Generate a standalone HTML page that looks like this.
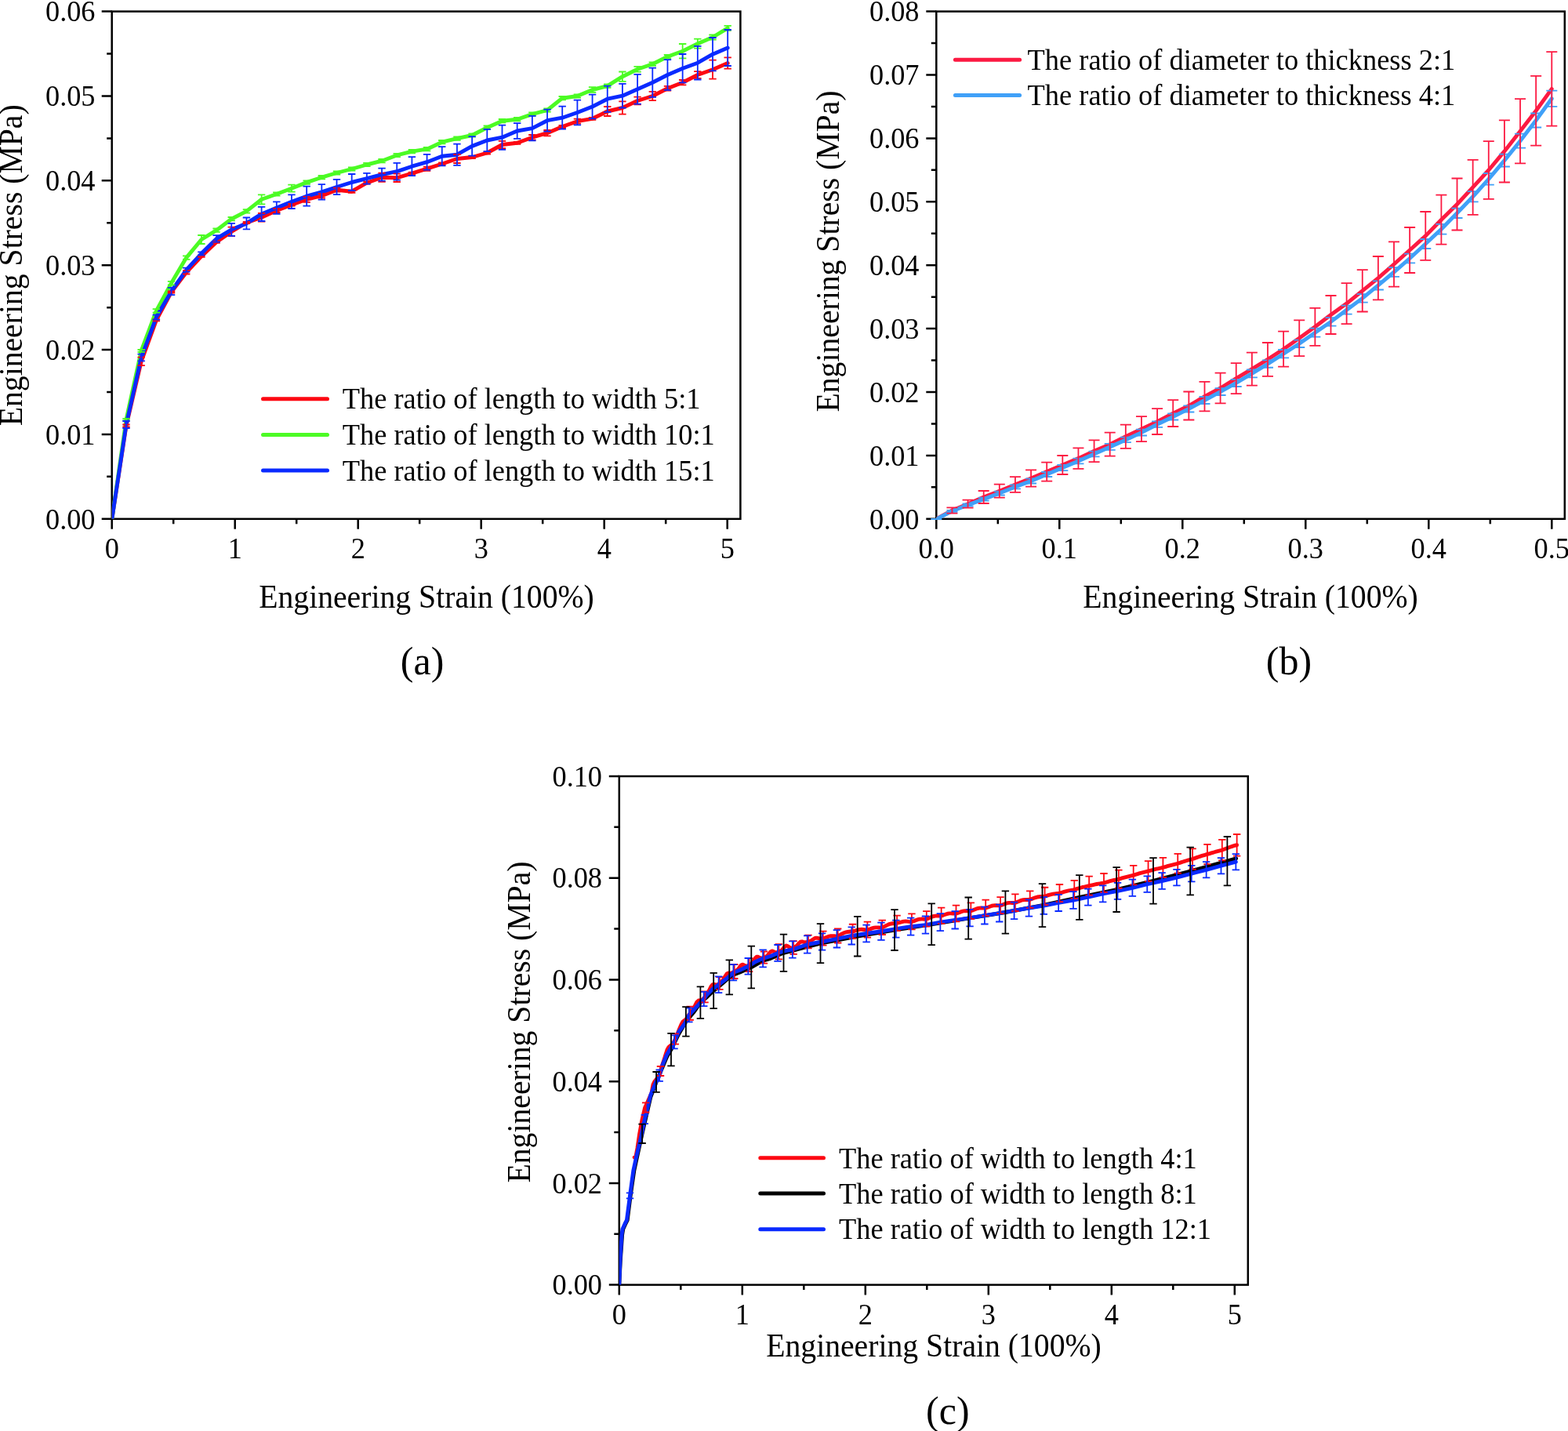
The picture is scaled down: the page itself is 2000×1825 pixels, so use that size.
<!DOCTYPE html>
<html lang="en">
<head>
<meta charset="utf-8">
<title>Engineering stress-strain curves</title>
<style>
html,body{margin:0;padding:0;background:#fff;}
body{width:2000px;height:1825px;overflow:hidden;}
svg{display:block;}
text{white-space:pre;}
</style>
</head>
<body>
<svg width="2000" height="1825" viewBox="0 0 2000 1825" font-family='"Liberation Serif", serif' fill="#000">
<rect width="2000" height="1825" fill="#fff"/>
<g>
<rect x="142.7" y="14.6" width="801.7" height="647.2" fill="none" stroke="#000" stroke-width="2.5"/>
<path d="M142.7 661.8v13M299.7 661.8v13M456.7 661.8v13M613.7 661.8v13M770.7 661.8v13M927.7 661.8v13M221.2 661.8v6.5M378.2 661.8v6.5M535.2 661.8v6.5M692.2 661.8v6.5M849.2 661.8v6.5M142.7 661.8h-13M142.7 553.93h-13M142.7 446.07h-13M142.7 338.2h-13M142.7 230.33h-13M142.7 122.47h-13M142.7 14.6h-13M142.7 607.87h-6.5M142.7 500h-6.5M142.7 392.13h-6.5M142.7 284.27h-6.5M142.7 176.4h-6.5M142.7 68.53h-6.5" fill="none" stroke="#000" stroke-width="2.5"/>
<text transform="translate(142.7 712.2) scale(0.9551 1)" font-size="38.01" text-anchor="middle">0</text>
<text transform="translate(299.7 712.2) scale(0.9551 1)" font-size="38.01" text-anchor="middle">1</text>
<text transform="translate(456.7 712.2) scale(0.9551 1)" font-size="38.01" text-anchor="middle">2</text>
<text transform="translate(613.7 712.2) scale(0.9551 1)" font-size="38.01" text-anchor="middle">3</text>
<text transform="translate(770.7 712.2) scale(0.9551 1)" font-size="38.01" text-anchor="middle">4</text>
<text transform="translate(927.7 712.2) scale(0.9551 1)" font-size="38.01" text-anchor="middle">5</text>
<text transform="translate(121.5 674.5) scale(0.9551 1)" font-size="38.01" text-anchor="end">0.00</text>
<text transform="translate(121.5 566.63) scale(0.9551 1)" font-size="38.01" text-anchor="end">0.01</text>
<text transform="translate(121.5 458.77) scale(0.9551 1)" font-size="38.01" text-anchor="end">0.02</text>
<text transform="translate(121.5 350.9) scale(0.9551 1)" font-size="38.01" text-anchor="end">0.03</text>
<text transform="translate(121.5 243.03) scale(0.9551 1)" font-size="38.01" text-anchor="end">0.04</text>
<text transform="translate(121.5 135.17) scale(0.9551 1)" font-size="38.01" text-anchor="end">0.05</text>
<text transform="translate(121.5 27.3) scale(0.9551 1)" font-size="38.01" text-anchor="end">0.06</text>
<clipPath id="ca"><rect x="142.7" y="14.6" width="801.7" height="647.2"/></clipPath>
<polyline clip-path="url(#ca)" points="142.8,662 161,543 180.18,460.9 199.36,408.4 218.54,372.5 237.72,347.3 256.9,326.9 276.08,308.8 295.26,295.4 314.44,284 333.62,277.3 352.8,268.5 371.98,261.3 391.16,254.3 410.34,249.7 429.52,242.2 448.7,244.2 467.88,233.2 487.06,226.2 506.24,226.8 525.42,221.2 544.6,215.2 563.78,209 582.96,202.5 602.14,200.5 621.32,195 640.5,184.5 659.68,182.3 678.86,175.2 698.04,169.7 717.22,161.5 736.4,154.7 755.58,151.3 774.76,142 793.94,137.5 813.12,128.5 832.3,122.5 851.48,112.7 870.66,105.2 889.84,95.5 909.02,88.7 928.2,80.5" fill="none" stroke="#fd0812" stroke-width="4.9" stroke-linejoin="round" stroke-linecap="round"/>
<polyline clip-path="url(#ca)" points="142.8,662 161,535.1 180.18,447.4 199.36,396.4 218.54,361.1 237.72,328.6 256.9,305.5 276.08,293.7 295.26,279.2 314.44,269.4 333.62,254.3 352.8,247.5 371.98,240.2 391.16,232.6 410.34,226.2 429.52,220.5 448.7,215.5 467.88,210 487.06,205.2 506.24,198 525.42,193.2 544.6,190.2 563.78,181.2 582.96,176.7 602.14,172.5 621.32,162.7 640.5,154.2 659.68,152.2 678.86,145.6 698.04,140.5 717.22,125.2 736.4,122.5 755.58,114.5 774.76,109.7 793.94,97.7 813.12,88.3 832.3,81.7 851.48,72.2 870.66,65.2 889.84,55.7 909.02,47.5 928.2,35.8" fill="none" stroke="#4cfb24" stroke-width="4.9" stroke-linejoin="round" stroke-linecap="round"/>
<polyline clip-path="url(#ca)" points="142.8,662 161,541.5 180.18,456 199.36,404.6 218.54,371.5 237.72,344.1 256.9,323.3 276.08,304.4 295.26,292.8 314.44,284.9 333.62,272.9 352.8,265.1 371.98,257.2 391.16,250.2 410.34,244.8 429.52,238.5 448.7,232.5 467.88,227.7 487.06,222.7 506.24,218.7 525.42,212.2 544.6,206.7 563.78,199.2 582.96,197.2 602.14,186.4 621.32,179 640.5,175.2 659.68,167 678.86,163.6 698.04,153.7 717.22,150.2 736.4,143.5 755.58,136 774.76,126.2 793.94,122.2 813.12,113.8 832.3,105.2 851.48,95.5 870.66,87.2 889.84,80.2 909.02,69.2 928.2,61" fill="none" stroke="#0a2aff" stroke-width="4.9" stroke-linejoin="round" stroke-linecap="round"/>
<path d="M161 541.5V544.5M156.3 541.5h9.4M156.3 544.5h9.4M180.18 455.7V466.1M175.48 455.7h9.4M175.48 466.1h9.4M199.36 407.4V409.4M194.66 407.4h9.4M194.66 409.4h9.4M218.54 371.5V373.5M213.84 371.5h9.4M213.84 373.5h9.4M237.72 345.1V349.5M233.02 345.1h9.4M233.02 349.5h9.4M256.9 325.9V327.9M252.2 325.9h9.4M252.2 327.9h9.4M276.08 307.8V309.8M271.38 307.8h9.4M271.38 309.8h9.4M295.26 289.6V301.2M290.56 289.6h9.4M290.56 301.2h9.4M314.44 283V285M309.74 283h9.4M309.74 285h9.4M333.62 271.9V282.7M328.92 271.9h9.4M328.92 282.7h9.4M352.8 266V271M348.1 266h9.4M348.1 271h9.4M371.98 260V262.6M367.28 260h9.4M367.28 262.6h9.4M391.16 250.8V257.8M386.46 250.8h9.4M386.46 257.8h9.4M410.34 246.9V252.5M405.64 246.9h9.4M405.64 252.5h9.4M429.52 239.7V244.7M424.82 239.7h9.4M424.82 244.7h9.4M448.7 242.6V245.8M444 242.6h9.4M444 245.8h9.4M467.88 231.7V234.7M463.18 231.7h9.4M463.18 234.7h9.4M487.06 220.6V231.8M482.36 220.6h9.4M482.36 231.8h9.4M506.24 221.6V232M501.54 221.6h9.4M501.54 232h9.4M525.42 219.7V222.7M520.72 219.7h9.4M520.72 222.7h9.4M544.6 212.6V217.8M539.9 212.6h9.4M539.9 217.8h9.4M563.78 207.5V210.5M559.08 207.5h9.4M559.08 210.5h9.4M582.96 197V208M578.26 197h9.4M578.26 208h9.4M602.14 199V202M597.44 199h9.4M597.44 202h9.4M621.32 193.3V196.7M616.62 193.3h9.4M616.62 196.7h9.4M640.5 179.9V189.1M635.8 179.9h9.4M635.8 189.1h9.4M659.68 180.8V183.8M654.98 180.8h9.4M654.98 183.8h9.4M678.86 172V178.4M674.16 172h9.4M674.16 178.4h9.4M698.04 166V173.4M693.34 166h9.4M693.34 173.4h9.4M717.22 160V163M712.52 160h9.4M712.52 163h9.4M736.4 151.7V157.7M731.7 151.7h9.4M731.7 157.7h9.4M755.58 149.8V152.8M750.88 149.8h9.4M750.88 152.8h9.4M774.76 136V148M770.06 136h9.4M770.06 148h9.4M793.94 129.4V145.6M789.24 129.4h9.4M789.24 145.6h9.4M813.12 123.6V133.4M808.42 123.6h9.4M808.42 133.4h9.4M832.3 116.8V128.2M827.6 116.8h9.4M827.6 128.2h9.4M851.48 109.9V115.5M846.78 109.9h9.4M846.78 115.5h9.4M870.66 102V108.4M865.96 102h9.4M865.96 108.4h9.4M889.84 91.2V99.8M885.14 91.2h9.4M885.14 99.8h9.4M909.02 76.7V100.7M904.32 76.7h9.4M904.32 100.7h9.4M928.2 73.3V87.7M923.5 73.3h9.4M923.5 87.7h9.4" fill="none" stroke="#fd0812" stroke-width="1.8"/>
<path d="M161 533.8V536.4M156.3 533.8h9.4M156.3 536.4h9.4M180.18 446V448.8M175.48 446h9.4M175.48 448.8h9.4M199.36 394.2V398.6M194.66 394.2h9.4M194.66 398.6h9.4M218.54 358.9V363.3M213.84 358.9h9.4M213.84 363.3h9.4M237.72 326.4V330.8M233.02 326.4h9.4M233.02 330.8h9.4M256.9 300V311M252.2 300h9.4M252.2 311h9.4M276.08 291.5V295.9M271.38 291.5h9.4M271.38 295.9h9.4M295.26 277V281.4M290.56 277h9.4M290.56 281.4h9.4M314.44 267.2V271.6M309.74 267.2h9.4M309.74 271.6h9.4M333.62 248.3V260.3M328.92 248.3h9.4M328.92 260.3h9.4M352.8 245.3V249.7M348.1 245.3h9.4M348.1 249.7h9.4M371.98 235.7V244.7M367.28 235.7h9.4M367.28 244.7h9.4M391.16 230.4V234.8M386.46 230.4h9.4M386.46 234.8h9.4M410.34 224V228.4M405.64 224h9.4M405.64 228.4h9.4M429.52 218.3V222.7M424.82 218.3h9.4M424.82 222.7h9.4M448.7 213.3V217.7M444 213.3h9.4M444 217.7h9.4M467.88 207.8V212.2M463.18 207.8h9.4M463.18 212.2h9.4M487.06 203V207.4M482.36 203h9.4M482.36 207.4h9.4M506.24 195.8V200.2M501.54 195.8h9.4M501.54 200.2h9.4M525.42 191V195.4M520.72 191h9.4M520.72 195.4h9.4M544.6 188V192.4M539.9 188h9.4M539.9 192.4h9.4M563.78 179V183.4M559.08 179h9.4M559.08 183.4h9.4M582.96 174.5V178.9M578.26 174.5h9.4M578.26 178.9h9.4M602.14 170.3V174.7M597.44 170.3h9.4M597.44 174.7h9.4M621.32 160.5V164.9M616.62 160.5h9.4M616.62 164.9h9.4M640.5 152V156.4M635.8 152h9.4M635.8 156.4h9.4M659.68 150V154.4M654.98 150h9.4M654.98 154.4h9.4M678.86 143.4V147.8M674.16 143.4h9.4M674.16 147.8h9.4M698.04 138.3V142.7M693.34 138.3h9.4M693.34 142.7h9.4M717.22 123V127.4M712.52 123h9.4M712.52 127.4h9.4M736.4 120.3V124.7M731.7 120.3h9.4M731.7 124.7h9.4M755.58 111.1V117.9M750.88 111.1h9.4M750.88 117.9h9.4M774.76 107.5V111.9M770.06 107.5h9.4M770.06 111.9h9.4M793.94 91.5V103.9M789.24 91.5h9.4M789.24 103.9h9.4M813.12 84.9V91.7M808.42 84.9h9.4M808.42 91.7h9.4M832.3 79.5V83.9M827.6 79.5h9.4M827.6 83.9h9.4M851.48 70V74.4M846.78 70h9.4M846.78 74.4h9.4M870.66 56V74.4M865.96 56h9.4M865.96 74.4h9.4M889.84 49.7V61.7M885.14 49.7h9.4M885.14 61.7h9.4M909.02 44.5V50.5M904.32 44.5h9.4M904.32 50.5h9.4M928.2 32.8V38.8M923.5 32.8h9.4M923.5 38.8h9.4" fill="none" stroke="#4cfb24" stroke-width="1.8"/>
<path d="M161 537V546M156.3 537h9.4M156.3 546h9.4M180.18 451.7V460.3M175.48 451.7h9.4M175.48 460.3h9.4M199.36 401.6V407.6M194.66 401.6h9.4M194.66 407.6h9.4M218.54 366.8V376.2M213.84 366.8h9.4M213.84 376.2h9.4M237.72 341.6V346.6M233.02 341.6h9.4M233.02 346.6h9.4M256.9 321.3V325.3M252.2 321.3h9.4M252.2 325.3h9.4M276.08 300.2V308.6M271.38 300.2h9.4M271.38 308.6h9.4M295.26 284.8V300.8M290.56 284.8h9.4M290.56 300.8h9.4M314.44 277.5V292.3M309.74 277.5h9.4M309.74 292.3h9.4M333.62 263.8V282M328.92 263.8h9.4M328.92 282h9.4M352.8 257.4V272.8M348.1 257.4h9.4M348.1 272.8h9.4M371.98 248.4V266M367.28 248.4h9.4M367.28 266h9.4M391.16 237.7V262.7M386.46 237.7h9.4M386.46 262.7h9.4M410.34 235.05V254.55M405.64 235.05h9.4M405.64 254.55h9.4M429.52 228.8V248.2M424.82 228.8h9.4M424.82 248.2h9.4M448.7 222V243M444 222h9.4M444 243h9.4M467.88 220.8V234.6M463.18 220.8h9.4M463.18 234.6h9.4M487.06 214.7V230.7M482.36 214.7h9.4M482.36 230.7h9.4M506.24 207.8V229.6M501.54 207.8h9.4M501.54 229.6h9.4M525.42 200.2V224.2M520.72 200.2h9.4M520.72 224.2h9.4M544.6 196.8V216.6M539.9 196.8h9.4M539.9 216.6h9.4M563.78 187.1V211.3M559.08 187.1h9.4M559.08 211.3h9.4M582.96 183.6V210.8M578.26 183.6h9.4M578.26 210.8h9.4M602.14 174.2V198.6M597.44 174.2h9.4M597.44 198.6h9.4M621.32 164.9V193.1M616.62 164.9h9.4M616.62 193.1h9.4M640.5 159.6V190.8M635.8 159.6h9.4M635.8 190.8h9.4M659.68 157.1V176.9M654.98 157.1h9.4M654.98 176.9h9.4M678.86 147.9V179.3M674.16 147.9h9.4M674.16 179.3h9.4M698.04 139.7V167.7M693.34 139.7h9.4M693.34 167.7h9.4M717.22 135.7V164.7M712.52 135.7h9.4M712.52 164.7h9.4M736.4 127.7V159.3M731.7 127.7h9.4M731.7 159.3h9.4M755.58 120.6V151.4M750.88 120.6h9.4M750.88 151.4h9.4M774.76 109.6V142.8M770.06 109.6h9.4M770.06 142.8h9.4M793.94 106.9V137.5M789.24 106.9h9.4M789.24 137.5h9.4M813.12 94.9V132.7M808.42 94.9h9.4M808.42 132.7h9.4M832.3 86.6V123.8M827.6 86.6h9.4M827.6 123.8h9.4M851.48 76.2V114.8M846.78 76.2h9.4M846.78 114.8h9.4M870.66 69V105.4M865.96 69h9.4M865.96 105.4h9.4M889.84 58.9V101.5M885.14 58.9h9.4M885.14 101.5h9.4M909.02 48V90.4M904.32 48h9.4M904.32 90.4h9.4M928.2 38V84M923.5 38h9.4M923.5 84h9.4" fill="none" stroke="#0a2aff" stroke-width="1.8"/>
<text transform="translate(544 775) scale(0.9551 1)" font-size="41.57" text-anchor="middle">Engineering Strain (100%)</text>
<text transform="translate(28 338.3) rotate(-90) scale(0.9551 1)" font-size="41.57" text-anchor="middle">Engineering Stress (MPa)</text>
<text transform="translate(538.6 860.4) scale(0.9901 1)" font-size="50.5" text-anchor="middle">(a)</text>
<line x1="335.5" y1="508.8" x2="417.5" y2="508.8" stroke="#fd0812" stroke-width="5" stroke-linecap="round"/>
<text transform="translate(436.8 520.9) scale(0.9551 1)" font-size="38.11">The ratio of length to width 5:1</text>
<line x1="335.5" y1="554.4" x2="417.5" y2="554.4" stroke="#4cfb24" stroke-width="5" stroke-linecap="round"/>
<text transform="translate(436.8 566.9) scale(0.9551 1)" font-size="38.11">The ratio of length to width 10:1</text>
<line x1="335.5" y1="599.9" x2="417.5" y2="599.9" stroke="#0a2aff" stroke-width="5" stroke-linecap="round"/>
<text transform="translate(436.8 612.9) scale(0.9551 1)" font-size="38.11">The ratio of length to width 15:1</text>
</g>
<g>
<rect x="1194.3" y="14.6" width="801.5" height="647.2" fill="none" stroke="#000" stroke-width="2.5"/>
<path d="M1194.3 661.8v13M1351.3 661.8v13M1508.3 661.8v13M1665.3 661.8v13M1822.3 661.8v13M1979.3 661.8v13M1272.8 661.8v6.5M1429.8 661.8v6.5M1586.8 661.8v6.5M1743.8 661.8v6.5M1900.8 661.8v6.5M1194.3 661.8h-13M1194.3 580.9h-13M1194.3 500h-13M1194.3 419.1h-13M1194.3 338.2h-13M1194.3 257.3h-13M1194.3 176.4h-13M1194.3 95.5h-13M1194.3 14.6h-13M1194.3 621.35h-6.5M1194.3 540.45h-6.5M1194.3 459.55h-6.5M1194.3 378.65h-6.5M1194.3 297.75h-6.5M1194.3 216.85h-6.5M1194.3 135.95h-6.5M1194.3 55.05h-6.5" fill="none" stroke="#000" stroke-width="2.5"/>
<text transform="translate(1194.3 712.2) scale(0.9551 1)" font-size="38.01" text-anchor="middle">0.0</text>
<text transform="translate(1351.3 712.2) scale(0.9551 1)" font-size="38.01" text-anchor="middle">0.1</text>
<text transform="translate(1508.3 712.2) scale(0.9551 1)" font-size="38.01" text-anchor="middle">0.2</text>
<text transform="translate(1665.3 712.2) scale(0.9551 1)" font-size="38.01" text-anchor="middle">0.3</text>
<text transform="translate(1822.3 712.2) scale(0.9551 1)" font-size="38.01" text-anchor="middle">0.4</text>
<text transform="translate(1979.3 712.2) scale(0.9551 1)" font-size="38.01" text-anchor="middle">0.5</text>
<text transform="translate(1172.5 674.5) scale(0.9551 1)" font-size="38.01" text-anchor="end">0.00</text>
<text transform="translate(1172.5 593.6) scale(0.9551 1)" font-size="38.01" text-anchor="end">0.01</text>
<text transform="translate(1172.5 512.7) scale(0.9551 1)" font-size="38.01" text-anchor="end">0.02</text>
<text transform="translate(1172.5 431.8) scale(0.9551 1)" font-size="38.01" text-anchor="end">0.03</text>
<text transform="translate(1172.5 350.9) scale(0.9551 1)" font-size="38.01" text-anchor="end">0.04</text>
<text transform="translate(1172.5 270) scale(0.9551 1)" font-size="38.01" text-anchor="end">0.05</text>
<text transform="translate(1172.5 189.1) scale(0.9551 1)" font-size="38.01" text-anchor="end">0.06</text>
<text transform="translate(1172.5 108.2) scale(0.9551 1)" font-size="38.01" text-anchor="end">0.07</text>
<text transform="translate(1172.5 27.3) scale(0.9551 1)" font-size="38.01" text-anchor="end">0.08</text>
<clipPath id="cb"><rect x="1194.3" y="14.6" width="801.5" height="647.2"/></clipPath>
<polyline clip-path="url(#cb)" points="1194.3,662 1214.43,651 1234.56,642.7 1254.68,634 1274.81,626.2 1294.94,618 1315.07,610 1335.2,601.6 1355.32,593 1375.45,584.6 1395.58,575.3 1415.71,566.7 1435.84,556.8 1455.96,547.2 1476.09,537.6 1496.22,527.1 1516.35,517.5 1536.48,505.6 1556.6,495 1576.73,482.7 1596.86,470.7 1616.99,458.4 1637.12,445.2 1657.24,431.3 1677.37,416.8 1697.5,401.5 1717.63,387.1 1737.76,370.8 1757.88,354.7 1778.01,337 1798.14,319 1818.27,300.9 1838.4,280.2 1858.52,260.5 1878.65,238.8 1898.78,217 1918.91,192.9 1939.04,167.3 1959.16,141.2 1979.29,113.4" fill="none" stroke="#fc1a42" stroke-width="4.9" stroke-linejoin="round" stroke-linecap="round"/>
<polyline clip-path="url(#cb)" points="1194.3,662 1214.43,651.8 1234.56,644 1254.68,636.6 1274.81,629.1 1294.94,620.9 1315.07,613.4 1335.2,605 1355.32,596.6 1375.45,588 1395.58,579 1415.71,569.9 1435.84,560.9 1455.96,551.6 1476.09,541.2 1496.22,531.5 1516.35,521.4 1536.48,510.5 1556.6,499.6 1576.73,488.4 1596.86,476.4 1616.99,464.1 1637.12,451.2 1657.24,438.3 1677.37,424.2 1697.5,410.4 1717.63,395.2 1737.76,380.4 1757.88,363.9 1778.01,347 1798.14,329.5 1818.27,311 1838.4,292.2 1858.52,271.8 1878.65,250.8 1898.78,228.3 1918.91,204.6 1939.04,179.7 1959.16,153.5 1979.29,125.8" fill="none" stroke="#40a0f8" stroke-width="4.9" stroke-linejoin="round" stroke-linecap="round"/>
<path d="M1194.3 661.99V662.01M1187.3 661.99h14M1187.3 662.01h14M1214.43 650.8V652.8M1207.43 650.8h14M1207.43 652.8h14M1234.56 642.5V645.5M1227.56 642.5h14M1227.56 645.5h14M1254.68 634.6V638.6M1247.68 634.6h14M1247.68 638.6h14M1274.81 626.7V631.5M1267.81 626.7h14M1267.81 631.5h14M1294.94 618.4V623.4M1287.94 618.4h14M1287.94 623.4h14M1315.07 610.3V616.5M1308.07 610.3h14M1308.07 616.5h14M1335.2 602V608M1328.2 602h14M1328.2 608h14M1355.32 593V600.2M1348.32 593h14M1348.32 600.2h14M1375.45 584.6V591.4M1368.45 584.6h14M1368.45 591.4h14M1395.58 575.6V582.4M1388.58 575.6h14M1388.58 582.4h14M1415.71 565.9V573.9M1408.71 565.9h14M1408.71 573.9h14M1435.84 557.7V564.1M1428.84 557.7h14M1428.84 564.1h14M1455.96 547.7V555.5M1448.96 547.7h14M1448.96 555.5h14M1476.09 537.45V544.95M1469.09 537.45h14M1469.09 544.95h14M1496.22 527.5V535.5M1489.22 527.5h14M1489.22 535.5h14M1516.35 517.3V525.5M1509.35 517.3h14M1509.35 525.5h14M1536.48 506V515M1529.48 506h14M1529.48 515h14M1556.6 495.2V504M1549.6 495.2h14M1549.6 504h14M1576.73 483.8V493M1569.73 483.8h14M1569.73 493h14M1596.86 471.5V481.3M1589.86 471.5h14M1589.86 481.3h14M1616.99 459.45V468.75M1609.99 459.45h14M1609.99 468.75h14M1637.12 446V456.4M1630.12 446h14M1630.12 456.4h14M1657.24 433.6V443M1650.24 433.6h14M1650.24 443h14M1677.37 418.7V429.7M1670.37 418.7h14M1670.37 429.7h14M1697.5 405.1V415.7M1690.5 405.1h14M1690.5 415.7h14M1717.63 389.7V400.7M1710.63 389.7h14M1710.63 400.7h14M1737.76 375.2V385.6M1730.76 375.2h14M1730.76 385.6h14M1757.88 358.3V369.5M1750.88 358.3h14M1750.88 369.5h14M1778.01 341.2V352.8M1771.01 341.2h14M1771.01 352.8h14M1798.14 323.6V335.4M1791.14 323.6h14M1791.14 335.4h14M1818.27 305V317M1811.27 305h14M1811.27 317h14M1838.4 285.8V298.6M1831.4 285.8h14M1831.4 298.6h14M1858.52 265.6V278M1851.52 265.6h14M1851.52 278h14M1878.65 244.2V257.4M1871.65 244.2h14M1871.65 257.4h14M1898.78 221V235.6M1891.78 221h14M1891.78 235.6h14M1918.91 196.7V212.5M1911.91 196.7h14M1911.91 212.5h14M1939.04 170.7V188.7M1932.04 170.7h14M1932.04 188.7h14M1959.16 144.5V162.5M1952.16 144.5h14M1952.16 162.5h14M1979.29 115.7V135.9M1972.29 115.7h14M1972.29 135.9h14" fill="none" stroke="#40a0f8" stroke-width="1.8"/>
<path d="M1214.43 647.3V654.7M1207.43 647.3h14M1207.43 654.7h14M1234.56 637.7V647.7M1227.56 637.7h14M1227.56 647.7h14M1254.68 626V642M1247.68 626h14M1247.68 642h14M1274.81 617.7V634.7M1267.81 617.7h14M1267.81 634.7h14M1294.94 608.2V627.8M1287.94 608.2h14M1287.94 627.8h14M1315.07 599.3V620.7M1308.07 599.3h14M1308.07 620.7h14M1335.2 589.6V613.6M1328.2 589.6h14M1328.2 613.6h14M1355.32 581V605M1348.32 581h14M1348.32 605h14M1375.45 571.3V597.9M1368.45 571.3h14M1368.45 597.9h14M1395.58 561.4V589.2M1388.58 561.4h14M1388.58 589.2h14M1415.71 551.7V581.7M1408.71 551.7h14M1408.71 581.7h14M1435.84 541.7V571.9M1428.84 541.7h14M1428.84 571.9h14M1455.96 531.2V563.2M1448.96 531.2h14M1448.96 563.2h14M1476.09 521.2V554M1469.09 521.2h14M1469.09 554h14M1496.22 510.2V544M1489.22 510.2h14M1489.22 544h14M1516.35 499.5V535.5M1509.35 499.5h14M1509.35 535.5h14M1536.48 486.8V524.4M1529.48 486.8h14M1529.48 524.4h14M1556.6 475.7V514.3M1549.6 475.7h14M1549.6 514.3h14M1576.73 463.2V502.2M1569.73 463.2h14M1569.73 502.2h14M1596.86 449.7V491.7M1589.86 449.7h14M1589.86 491.7h14M1616.99 437V479.8M1609.99 437h14M1609.99 479.8h14M1637.12 422.7V467.7M1630.12 422.7h14M1630.12 467.7h14M1657.24 408.4V454.2M1650.24 408.4h14M1650.24 454.2h14M1677.37 392.8V440.8M1670.37 392.8h14M1670.37 440.8h14M1697.5 377V426M1690.5 377h14M1690.5 426h14M1717.63 361.1V413.1M1710.63 361.1h14M1710.63 413.1h14M1737.76 344.1V397.5M1730.76 344.1h14M1730.76 397.5h14M1757.88 327V382.4M1750.88 327h14M1750.88 382.4h14M1778.01 308.3V365.7M1771.01 308.3h14M1771.01 365.7h14M1798.14 290V348M1791.14 290h14M1791.14 348h14M1818.27 270V331.8M1811.27 270h14M1811.27 331.8h14M1838.4 248.7V311.7M1831.4 248.7h14M1831.4 311.7h14M1858.52 227.5V293.5M1851.52 227.5h14M1851.52 293.5h14M1878.65 203.8V273.8M1871.65 203.8h14M1871.65 273.8h14M1898.78 180.2V253.8M1891.78 180.2h14M1891.78 253.8h14M1918.91 153.3V232.5M1911.91 153.3h14M1911.91 232.5h14M1939.04 126.2V208.4M1932.04 126.2h14M1932.04 208.4h14M1959.16 96.8V185.6M1952.16 96.8h14M1952.16 185.6h14M1979.29 66.1V160.7M1972.29 66.1h14M1972.29 160.7h14" fill="none" stroke="#fc1a42" stroke-width="1.8"/>
<text transform="translate(1595 775) scale(0.9551 1)" font-size="41.57" text-anchor="middle">Engineering Strain (100%)</text>
<text transform="translate(1069.6 320.5) rotate(-90) scale(0.9551 1)" font-size="41.57" text-anchor="middle">Engineering Stress (MPa)</text>
<text transform="translate(1644 860.4) scale(0.9901 1)" font-size="50.5" text-anchor="middle">(b)</text>
<line x1="1218.4" y1="76.2" x2="1300.6" y2="76.2" stroke="#fc1a42" stroke-width="5" stroke-linecap="round"/>
<text transform="translate(1310.6 88.9) scale(0.9551 1)" font-size="38.11">The ratio of diameter to thickness 2:1</text>
<line x1="1218.4" y1="121.4" x2="1300.6" y2="121.4" stroke="#40a0f8" stroke-width="5" stroke-linecap="round"/>
<text transform="translate(1310.6 134.1) scale(0.9551 1)" font-size="38.11">The ratio of diameter to thickness 4:1</text>
</g>
<g>
<rect x="789.8" y="990" width="802" height="648.6" fill="none" stroke="#000" stroke-width="2.5"/>
<path d="M789.8 1638.6v13M946.8 1638.6v13M1103.8 1638.6v13M1260.8 1638.6v13M1417.8 1638.6v13M1574.8 1638.6v13M868.3 1638.6v6.5M1025.3 1638.6v6.5M1182.3 1638.6v6.5M1339.3 1638.6v6.5M1496.3 1638.6v6.5M789.8 1638.6h-13M789.8 1508.88h-13M789.8 1379.16h-13M789.8 1249.44h-13M789.8 1119.72h-13M789.8 990h-13M789.8 1573.74h-6.5M789.8 1444.02h-6.5M789.8 1314.3h-6.5M789.8 1184.58h-6.5M789.8 1054.86h-6.5" fill="none" stroke="#000" stroke-width="2.5"/>
<text transform="translate(789.8 1689.2) scale(0.9551 1)" font-size="38.01" text-anchor="middle">0</text>
<text transform="translate(946.8 1689.2) scale(0.9551 1)" font-size="38.01" text-anchor="middle">1</text>
<text transform="translate(1103.8 1689.2) scale(0.9551 1)" font-size="38.01" text-anchor="middle">2</text>
<text transform="translate(1260.8 1689.2) scale(0.9551 1)" font-size="38.01" text-anchor="middle">3</text>
<text transform="translate(1417.8 1689.2) scale(0.9551 1)" font-size="38.01" text-anchor="middle">4</text>
<text transform="translate(1574.8 1689.2) scale(0.9551 1)" font-size="38.01" text-anchor="middle">5</text>
<text transform="translate(768 1651.3) scale(0.9551 1)" font-size="38.01" text-anchor="end">0.00</text>
<text transform="translate(768 1521.58) scale(0.9551 1)" font-size="38.01" text-anchor="end">0.02</text>
<text transform="translate(768 1391.86) scale(0.9551 1)" font-size="38.01" text-anchor="end">0.04</text>
<text transform="translate(768 1262.14) scale(0.9551 1)" font-size="38.01" text-anchor="end">0.06</text>
<text transform="translate(768 1132.42) scale(0.9551 1)" font-size="38.01" text-anchor="end">0.08</text>
<text transform="translate(768 1002.7) scale(0.9551 1)" font-size="38.01" text-anchor="end">0.10</text>
<clipPath id="cc"><rect x="789.8" y="990" width="802" height="648.6"/></clipPath>
<polyline clip-path="url(#cc)" points="809.2,1476 811,1474.67 813,1464.13 815.5,1447 819,1428 822.7,1412.4 827,1403 831,1394 833,1383.1 835,1379.23 837,1376.66 839,1374.5 841,1371.25 843,1364.11 845,1357.39 847,1351.65 849,1344.89 851,1338.65 853,1335.32 855,1333.72 857,1332.23 859,1329.68 861,1325.83 863,1321.24 865,1316.16 867,1311.21 869,1306.47 871,1302.98 873,1301.5 875,1299.74 877,1297.13 879,1293.58 881,1291.39 883,1288.98 885,1285.66 887,1281.44 889,1277.75 891,1275.99 893,1275.77 895,1275.41 897,1273.95 899,1271.39 901,1268.45 903,1265.8 905,1262.05 907,1258.07 909,1255.58 911,1255.38 913,1256.03 915,1255.8 917,1254.6 919,1253.09 921,1251.3 923,1248.51 925,1244.93 927,1242.02 929,1240.95 931,1241.2 933,1241.09 935,1239.86 937,1238.92 939,1238.09 941,1236.54 943,1233.92 945,1231.21 947,1230.09 949,1230.82 951,1231.88 953,1231.95 955,1231.07 957,1229.81 959,1228.18 961,1225.47 963,1222.2 965,1220.24 967,1220.32 969,1221.47 971,1222.05 973,1221.55 975,1220.93 977,1220.17 979,1218.58 981,1215.98 983,1213.65 985,1212.84 987,1213.73 989,1214.68 991,1214.57 993,1213.87 995,1213.18 997,1212 999,1209.71 1001,1207.07 1003,1205.92 1005,1206.77 1007,1208.3 1009,1209.08 1011,1208.92 1013,1208.11 1015,1207.07 1017,1205.3 1019,1202.97 1021,1201.18 1023,1200.78 1025,1201.34 1027,1201.76 1029,1201.48 1031,1201 1033,1200.42 1035,1199.45 1037,1198.02 1039,1196.71 1041,1196.16 1043,1196.4 1045,1196.84 1047,1196.99 1049,1196.81 1051,1196.47 1053,1195.84 1055,1195 1057,1194.22 1059,1193.78 1061,1193.63 1063,1193.67 1065,1193.81 1067,1193.85 1069,1193.39 1071,1192.56 1073,1191.51 1075,1190.43 1077,1189.49 1079,1188.84 1081,1188.47 1083,1188.27 1085,1188.06 1087,1187.81 1089,1187.53 1091,1186.98 1093,1186.31 1095,1185.72 1097,1185.36 1099,1185.3 1101,1185.48 1103,1185.72 1105,1185.84 1107,1185.61 1109,1185.09 1111,1184.38 1113,1183.66 1115,1183.11 1117,1182.85 1119,1182.87 1121,1183.03 1123,1183.15 1125,1182.87 1127,1182.15 1129,1181.17 1131,1180.09 1133,1179.12 1135,1178.4 1137,1177.98 1139,1177.78 1141,1177.61 1143,1177.34 1145,1177.17 1147,1176.72 1149,1176.1 1151,1175.49 1153,1175.09 1155,1174.98 1157,1175.14 1159,1175.41 1161,1175.62 1163,1175.45 1165,1174.92 1167,1174.16 1169,1173.33 1171,1172.64 1173,1172.21 1175,1172.07 1177,1172.13 1179,1172.2 1181,1172.06 1183,1171.59 1185,1170.84 1187,1169.94 1189,1169.09 1191,1168.46 1193,1168.13 1195,1168.05 1197,1168.07 1199,1167.97 1201,1167.75 1203,1167.25 1205,1166.55 1207,1165.8 1209,1165.21 1211,1164.9 1213,1164.88 1215,1165.02 1217,1165.15 1219,1165.05 1221,1164.62 1223,1163.93 1225,1163.13 1227,1162.4 1229,1161.91 1231,1161.72 1233,1161.76 1235,1161.87 1237,1161.84 1239,1161.49 1241,1160.85 1243,1160.02 1245,1159.18 1247,1158.52 1249,1158.15 1251,1158.05 1253,1158.1 1255,1158.1 1257,1157.91 1259,1157.45 1261,1156.74 1263,1155.95 1265,1155.26 1267,1154.82 1269,1154.68 1271,1154.76 1273,1154.87 1275,1154.81 1277,1154.46 1279,1153.82 1281,1153.02 1283,1152.24 1285,1151.66 1287,1151.38 1289,1151.36 1291,1151.46 1293,1151.47 1295,1151.2 1297,1150.6 1299,1149.77 1301,1148.89 1303,1148.17 1305,1147.72 1307,1147.54 1309,1147.52 1311,1147.48 1313,1147.26 1315,1146.78 1317,1146.09 1319,1145.3 1321,1144.58 1323,1144.03 1325,1143.71 1327,1143.54 1329,1143.42 1331,1143.21 1333,1142.85 1335,1142.33 1337,1141.7 1339,1141.07 1341,1140.55 1343,1140.18 1345,1139.94 1347,1139.75 1349,1139.54 1351,1139.19 1353,1138.67 1355,1138.07 1357,1137.44 1359,1136.86 1361,1136.37 1363,1135.96 1365,1135.59 1367,1135.21 1369,1134.79 1371,1134.28 1373,1133.72 1375,1133.14 1377,1132.56 1379,1132 1381,1131.49 1383,1131.01 1385,1130.56 1387,1130.1 1389,1129.67 1391,1129.26 1393,1128.82 1395,1128.36 1397,1127.92 1399,1127.51 1401,1127.15 1403,1126.82 1405,1126.49 1407,1126.12 1409,1125.62 1411,1125.08 1413,1124.52 1415,1123.96 1417,1123.43 1419,1122.95 1421,1122.5 1423,1122.06 1425,1121.62 1427,1121.12 1429,1120.56 1431,1119.97 1433,1119.38 1435,1118.8 1437,1118.27 1439,1117.77 1441,1117.3 1443,1116.83 1445,1116.33 1447,1115.77 1449,1115.18 1451,1114.56 1453,1113.95 1455,1113.38 1457,1112.84 1459,1112.34 1461,1111.86 1463,1111.36 1465,1110.87 1467,1110.35 1469,1109.81 1471,1109.25 1473,1108.73 1475,1108.24 1477,1107.79 1479,1107.37 1481,1106.94 1483,1106.46 1485,1105.9 1487,1105.31 1489,1104.7 1491,1104.11 1493,1103.55 1495,1103.03 1497,1102.55 1499,1102.07 1501,1101.58 1503,1100.98 1505,1100.34 1507,1099.67 1509,1099 1511,1098.36 1513,1097.77 1515,1097.21 1517,1096.67 1519,1096.12 1521,1095.51 1523,1094.85 1525,1094.14 1527,1093.43 1529,1092.74 1531,1092.08 1533,1091.46 1535,1090.87 1537,1090.29 1539,1089.7 1541,1089.15 1543,1088.55 1545,1087.94 1547,1087.33 1549,1086.75 1551,1086.21 1553,1085.71 1555,1085.22 1557,1084.72 1559,1084.06 1561,1083.31 1563,1082.53 1565,1081.75 1567,1080.98 1569,1080.25 1571,1079.57 1573,1078.91 1575,1078.25 1577,1077.8 1577.7,1077.8" fill="none" stroke="#fd0812" stroke-width="4.9" stroke-linejoin="round" stroke-linecap="round"/>
<polyline clip-path="url(#cc)" points="789.8,1638.6 791.2,1609.3 792.6,1589.6 793.6,1574.8 794.8,1567.4 798.2,1560 800.2,1556.2 804.2,1524.8 808.8,1493.1 812.6,1475.4 819.1,1445.8 829.8,1399.4 837.1,1379.9 844.3,1362.8 850.6,1347.7 856,1338.6 865.7,1318.7 874.9,1302.9 885.8,1289.7 893.4,1278.6 901,1272.1 910.2,1263.5 916.6,1258.5 930.3,1246.4 935.45,1243.1 943.8,1240 958.3,1233.5 973.15,1225.1 982.9,1222.3 992,1218.2 999.5,1215.3 1046.5,1203.2 1093.7,1194.2 1141,1186.1 1188.2,1178.8 1235.2,1171.1 1282.4,1163.5 1329.5,1154.6 1376.8,1144.5 1424.1,1134.6 1471,1123.4 1518.2,1111 1565.4,1098.2 1576.6,1094.8" fill="none" stroke="#000" stroke-width="4.9" stroke-linejoin="round" stroke-linecap="round"/>
<polyline clip-path="url(#cc)" points="789.8,1638.6 790.9,1609.3 792.1,1589.6 793,1574.8 794,1567.4 797.4,1560 799.4,1556.2 803.5,1524.8 807.8,1493.1 811.6,1475.4 817.3,1451.5 822.35,1427.5 829.8,1396.6 836.7,1380 841.2,1371.7 844.3,1360 850.6,1344.9 860.05,1328.8 865.7,1315.9 873.2,1305.8 878.9,1294.5 885.8,1286.9 897.75,1274 901,1269.3 909.8,1260.5 916.6,1255.7 926.2,1248.5 935.45,1240.3 943.8,1237.2 954.3,1232.3 962.7,1227.1 973.15,1222.3 982.9,1219.5 992,1215.4 1001.8,1212.6 1010.85,1211 1029.7,1204.5 1048.55,1201 1067.4,1197.3 1086.25,1193.4 1105.1,1190.5 1123.95,1187.8 1142.8,1184.7 1161.65,1181.7 1180.5,1179.6 1199.35,1176.1 1218.2,1173.3 1237.05,1170.6 1255.9,1167.6 1274.75,1164.6 1293.6,1161.4 1312.45,1158 1331.3,1155 1350.15,1151.4 1369,1148 1387.85,1144.1 1406.7,1139.9 1425.55,1136.4 1444.4,1132.3 1463.25,1127.6 1482.1,1123.5 1500.95,1119.1 1519.8,1114.1 1538.65,1109.3 1557.5,1104.2 1576.35,1099.2" fill="none" stroke="#0a2aff" stroke-width="4.9" stroke-linejoin="round" stroke-linecap="round"/>
<path d="M823.65 1406.3V1418.5M818.95 1406.3h9.4M818.95 1418.5h9.4M842.5 1359.99V1371.99M837.8 1359.99h9.4M837.8 1371.99h9.4M861.35 1318.43V1331.63M856.65 1318.43h9.4M856.65 1331.63h9.4M880.2 1283.77V1300.77M875.5 1283.77h9.4M875.5 1300.77h9.4M899.05 1264.32V1278.32M894.35 1264.32h9.4M894.35 1278.32h9.4M917.9 1246.03V1261.83M913.2 1246.03h9.4M913.2 1261.83h9.4M936.75 1230.02V1248.02M932.05 1230.02h9.4M932.05 1248.02h9.4M955.6 1222.2V1239.2M950.9 1222.2h9.4M950.9 1239.2h9.4M974.45 1213.5V1228.7M969.75 1213.5h9.4M969.75 1228.7h9.4M993.3 1204.17V1223.37M988.6 1204.17h9.4M988.6 1223.37h9.4M1012.15 1200.07V1216.87M1007.45 1200.07h9.4M1007.45 1216.87h9.4M1031 1192.6V1209.4M1026.3 1192.6h9.4M1026.3 1209.4h9.4M1049.85 1187.69V1205.69M1045.15 1187.69h9.4M1045.15 1205.69h9.4M1068.7 1184.49V1202.49M1064 1184.49h9.4M1064 1202.49h9.4M1087.55 1178.76V1196.76M1082.85 1178.76h9.4M1082.85 1196.76h9.4M1106.4 1175.71V1195.71M1101.7 1175.71h9.4M1101.7 1195.71h9.4M1125.25 1173.6V1192M1120.55 1173.6h9.4M1120.55 1192h9.4M1144.1 1167.58V1186.98M1139.4 1167.58h9.4M1139.4 1186.98h9.4M1162.95 1165.46V1185.46M1158.25 1165.46h9.4M1158.25 1185.46h9.4M1181.8 1162.21V1181.61M1177.1 1162.21h9.4M1177.1 1181.61h9.4M1200.65 1157.71V1177.91M1195.95 1157.71h9.4M1195.95 1177.91h9.4M1219.5 1154.67V1175.27M1214.8 1154.67h9.4M1214.8 1175.27h9.4M1238.35 1151.34V1171.94M1233.65 1151.34h9.4M1233.65 1171.94h9.4M1257.2 1147.58V1168.18M1252.5 1147.58h9.4M1252.5 1168.18h9.4M1276.05 1144.17V1165.17M1271.35 1144.17h9.4M1271.35 1165.17h9.4M1294.9 1140.42V1162.02M1290.2 1140.42h9.4M1290.2 1162.02h9.4M1313.75 1136.41V1157.81M1309.05 1136.41h9.4M1309.05 1157.81h9.4M1332.6 1131.74V1154.14M1327.9 1131.74h9.4M1327.9 1154.14h9.4M1351.45 1127.98V1150.18M1346.75 1127.98h9.4M1346.75 1150.18h9.4M1370.3 1122.96V1145.96M1365.6 1122.96h9.4M1365.6 1145.96h9.4M1389.15 1117.64V1141.64M1384.45 1117.64h9.4M1384.45 1141.64h9.4M1408 1113.98V1137.78M1403.3 1113.98h9.4M1403.3 1137.78h9.4M1426.85 1109.56V1132.76M1422.15 1109.56h9.4M1422.15 1132.76h9.4M1445.7 1103.94V1128.34M1441 1103.94h9.4M1441 1128.34h9.4M1464.55 1098.18V1123.78M1459.85 1098.18h9.4M1459.85 1123.78h9.4M1483.4 1093.85V1118.85M1478.7 1093.85h9.4M1478.7 1118.85h9.4M1502.25 1088.81V1113.61M1497.55 1088.81h9.4M1497.55 1113.61h9.4M1521.1 1082.28V1108.68M1516.4 1082.28h9.4M1516.4 1108.68h9.4M1539.95 1076.84V1102.04M1535.25 1076.84h9.4M1535.25 1102.04h9.4M1558.8 1070.93V1097.33M1554.1 1070.93h9.4M1554.1 1097.33h9.4M1577.65 1064V1091.6M1572.95 1064h9.4M1572.95 1091.6h9.4" fill="none" stroke="#fd0812" stroke-width="1.8"/>
<path d="M803.5 1521.3V1528.3M798.8 1521.3h9.4M798.8 1528.3h9.4M822.35 1421.9V1433.1M817.65 1421.9h9.4M817.65 1433.1h9.4M841.2 1364.5V1378.9M836.5 1364.5h9.4M836.5 1378.9h9.4M860.05 1320.3V1337.3M855.35 1320.3h9.4M855.35 1337.3h9.4M878.9 1285.7V1303.3M874.2 1285.7h9.4M874.2 1303.3h9.4M897.75 1264.9V1283.1M893.05 1264.9h9.4M893.05 1283.1h9.4M916.6 1245.3V1266.1M911.9 1245.3h9.4M911.9 1266.1h9.4M935.45 1230.2V1250.4M930.75 1230.2h9.4M930.75 1250.4h9.4M954.3 1222V1242.6M949.6 1222h9.4M949.6 1242.6h9.4M973.15 1211.3V1233.3M968.45 1211.3h9.4M968.45 1233.3h9.4M992 1205V1225.8M987.3 1205h9.4M987.3 1225.8h9.4M1010.85 1200.3V1221.7M1006.15 1200.3h9.4M1006.15 1221.7h9.4M1029.7 1193.3V1215.7M1025 1193.3h9.4M1025 1215.7h9.4M1048.55 1190.3V1211.7M1043.85 1190.3h9.4M1043.85 1211.7h9.4M1067.4 1186.1V1208.5M1062.7 1186.1h9.4M1062.7 1208.5h9.4M1086.25 1182.3V1204.5M1081.55 1182.3h9.4M1081.55 1204.5h9.4M1105.1 1179.6V1201.4M1100.4 1179.6h9.4M1100.4 1201.4h9.4M1123.95 1176.7V1198.9M1119.25 1176.7h9.4M1119.25 1198.9h9.4M1142.8 1173.7V1195.7M1138.1 1173.7h9.4M1138.1 1195.7h9.4M1161.65 1170.7V1192.7M1156.95 1170.7h9.4M1156.95 1192.7h9.4M1180.5 1168.5V1190.7M1175.8 1168.5h9.4M1175.8 1190.7h9.4M1199.35 1165.1V1187.1M1194.65 1165.1h9.4M1194.65 1187.1h9.4M1218.2 1162.1V1184.5M1213.5 1162.1h9.4M1213.5 1184.5h9.4M1237.05 1159.9V1181.3M1232.35 1159.9h9.4M1232.35 1181.3h9.4M1255.9 1156.7V1178.5M1251.2 1156.7h9.4M1251.2 1178.5h9.4M1274.75 1153.7V1175.5M1270.05 1153.7h9.4M1270.05 1175.5h9.4M1293.6 1150.7V1172.1M1288.9 1150.7h9.4M1288.9 1172.1h9.4M1312.45 1147.3V1168.7M1307.75 1147.3h9.4M1307.75 1168.7h9.4M1331.3 1144.2V1165.8M1326.6 1144.2h9.4M1326.6 1165.8h9.4M1350.15 1140.8V1162M1345.45 1140.8h9.4M1345.45 1162h9.4M1369 1137.2V1158.8M1364.3 1137.2h9.4M1364.3 1158.8h9.4M1387.85 1133.6V1154.6M1383.15 1133.6h9.4M1383.15 1154.6h9.4M1406.7 1129.4V1150.4M1402 1129.4h9.4M1402 1150.4h9.4M1425.55 1125.9V1146.9M1420.85 1125.9h9.4M1420.85 1146.9h9.4M1444.4 1121.7V1142.9M1439.7 1121.7h9.4M1439.7 1142.9h9.4M1463.25 1117.3V1137.9M1458.55 1117.3h9.4M1458.55 1137.9h9.4M1482.1 1113.2V1133.8M1477.4 1113.2h9.4M1477.4 1133.8h9.4M1500.95 1108.8V1129.4M1496.25 1108.8h9.4M1496.25 1129.4h9.4M1519.8 1103.9V1124.3M1515.1 1103.9h9.4M1515.1 1124.3h9.4M1538.65 1099.2V1119.4M1533.95 1099.2h9.4M1533.95 1119.4h9.4M1557.5 1094.1V1114.3M1552.8 1094.1h9.4M1552.8 1114.3h9.4M1576.35 1089.1V1109.3M1571.65 1089.1h9.4M1571.65 1109.3h9.4" fill="none" stroke="#0a2aff" stroke-width="1.8"/>
<path d="M819.1 1433.6V1458M814.4 1433.6h9.4M814.4 1458h9.4M837.1 1367V1392.8M832.4 1367h9.4M832.4 1392.8h9.4M856 1317.8V1359.4M851.3 1317.8h9.4M851.3 1359.4h9.4M874.9 1284.2V1321.6M870.2 1284.2h9.4M870.2 1321.6h9.4M893.4 1258.3V1298.9M888.7 1258.3h9.4M888.7 1298.9h9.4M910.2 1240.9V1286.1M905.5 1240.9h9.4M905.5 1286.1h9.4M930.3 1224.4V1268.4M925.6 1224.4h9.4M925.6 1268.4h9.4M958.3 1206.7V1260.3M953.6 1206.7h9.4M953.6 1260.3h9.4M999.5 1191.7V1238.9M994.8 1191.7h9.4M994.8 1238.9h9.4M1046.5 1178.2V1228.2M1041.8 1178.2h9.4M1041.8 1228.2h9.4M1093.7 1168.9V1219.5M1089 1168.9h9.4M1089 1219.5h9.4M1141 1160.2V1212M1136.3 1160.2h9.4M1136.3 1212h9.4M1188.2 1152.4V1205.2M1183.5 1152.4h9.4M1183.5 1205.2h9.4M1235.2 1144.5V1197.7M1230.5 1144.5h9.4M1230.5 1197.7h9.4M1282.4 1136.3V1190.7M1277.7 1136.3h9.4M1277.7 1190.7h9.4M1329.5 1127.1V1182.1M1324.8 1127.1h9.4M1324.8 1182.1h9.4M1376.8 1116.2V1172.8M1372.1 1116.2h9.4M1372.1 1172.8h9.4M1424.1 1106.2V1163M1419.4 1106.2h9.4M1419.4 1163h9.4M1471 1094.1V1152.7M1466.3 1094.1h9.4M1466.3 1152.7h9.4M1518.2 1080.6V1141.4M1513.5 1080.6h9.4M1513.5 1141.4h9.4M1565.4 1067V1129.4M1560.7 1067h9.4M1560.7 1129.4h9.4" fill="none" stroke="#000" stroke-width="1.8"/>
<text transform="translate(1191 1730) scale(0.9551 1)" font-size="41.57" text-anchor="middle">Engineering Strain (100%)</text>
<text transform="translate(676 1303.5) rotate(-90) scale(0.9551 1)" font-size="41.57" text-anchor="middle">Engineering Stress (MPa)</text>
<text transform="translate(1208.8 1816) scale(0.9901 1)" font-size="50.5" text-anchor="middle">(c)</text>
<line x1="969.8" y1="1476.7" x2="1050.5" y2="1476.7" stroke="#fd0812" stroke-width="5" stroke-linecap="round"/>
<text transform="translate(1070 1490) scale(0.9551 1)" font-size="38.11">The ratio of width to length 4:1</text>
<line x1="969.8" y1="1521.9" x2="1050.5" y2="1521.9" stroke="#000" stroke-width="5" stroke-linecap="round"/>
<text transform="translate(1070 1535.1) scale(0.9551 1)" font-size="38.11">The ratio of width to length 8:1</text>
<line x1="969.8" y1="1567.7" x2="1050.5" y2="1567.7" stroke="#0a2aff" stroke-width="5" stroke-linecap="round"/>
<text transform="translate(1070 1580.2) scale(0.9551 1)" font-size="38.11">The ratio of width to length 12:1</text>
</g>
</svg>
</body>
</html>
